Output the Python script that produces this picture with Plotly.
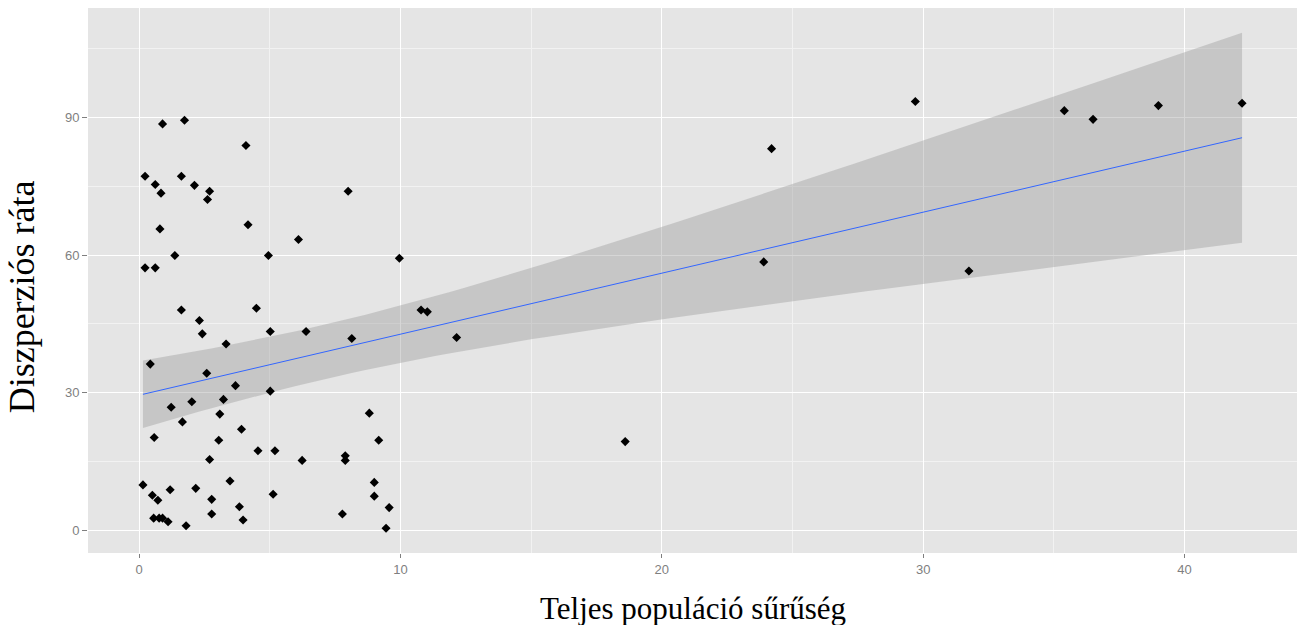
import numpy as np
import plotly.graph_objects as go

# Teljes populáció sűrűség (x) and Diszperziós ráta (y)
density = [0.90, 1.74, 4.09, 0.23, 1.62, 0.62, 2.12, 0.84, 2.70, 2.62,
           4.17, 0.80, 1.37, 0.23, 0.62, 1.62, 4.49, 2.31, 2.42, 3.33,
           0.43, 2.59, 3.69, 2.02, 3.23, 1.23, 3.09, 1.66, 3.92, 0.58,
           3.05, 4.55, 2.70, 0.15, 3.48, 0.51, 1.19, 2.17, 0.72, 2.78,
           3.84, 0.56, 0.77, 0.90, 1.11, 1.80, 2.78, 3.98, 8.00, 6.10,
           4.95, 9.96, 10.79, 11.03, 5.02, 6.39, 8.14, 5.02, 8.81, 9.17,
           5.20, 6.24, 7.89, 7.89, 9.00, 5.13, 9.00, 9.57, 7.78, 9.45,
           12.15, 18.6, 23.9, 24.2, 29.7, 31.75, 35.4, 36.5, 39.0, 42.2]
rate = [88.6, 89.4, 83.9, 77.2, 77.2, 75.4, 75.2, 73.5, 73.9, 72.1,
        66.6, 65.7, 59.9, 57.2, 57.2, 48.0, 48.4, 45.7, 42.8, 40.6,
        36.2, 34.2, 31.5, 28.0, 28.5, 26.8, 25.3, 23.6, 22.0, 20.2,
        19.6, 17.3, 15.4, 9.85, 10.7, 7.6, 8.8, 9.1, 6.5, 6.7,
        5.1, 2.6, 2.6, 2.6, 1.8, 0.95, 3.5, 2.2, 73.9, 63.4,
        59.9, 59.3, 48.0, 47.6, 43.3, 43.3, 41.8, 30.3, 25.5, 19.6,
        17.3, 15.2, 16.2, 15.2, 10.4, 7.8, 7.4, 4.9, 3.5, 0.4,
        42.0, 19.3, 58.5, 83.2, 93.5, 56.5, 91.5, 89.6, 92.6, 93.1]

x_ticks = [0, 10, 20, 30, 40]
y_ticks = [0, 30, 60, 90]
x_title = "Teljes populáció sűrűség"
y_title = "Diszperziós ráta"

# linear model with 95% confidence band (as geom_smooth(method="lm"))
x = np.array(density)
y = np.array(rate)
n = len(x)
xbar, ybar = x.mean(), y.mean()
sxx = ((x - xbar) ** 2).sum()
b = ((x - xbar) * (y - ybar)).sum() / sxx
a = ybar - b * xbar
s = np.sqrt(((y - (a + b * x)) ** 2).sum() / (n - 2))
t_q = 1.9908  # t(0.975, df=78)
xg = np.linspace(x.min(), x.max(), 80)
yg = a + b * xg
se = s * np.sqrt(1 / n + (xg - xbar) ** 2 / sxx)
upper = yg + t_q * se
lower = yg - t_q * se

def expand(lo, hi, f=0.05):
    d = (hi - lo) * f
    return [lo - d, hi + d]

x_range = expand(x.min(), x.max())
y_range = expand(min(y.min(), lower.min()), max(y.max(), upper.max()))

fig = go.Figure()
fig.add_trace(go.Scatter(
    x=np.concatenate([xg, xg[::-1]]), y=np.concatenate([upper, lower[::-1]]),
    fill="toself", fillcolor="rgba(153,153,153,0.4)", line=dict(width=0),
    mode="lines", hoverinfo="skip", showlegend=False))
fig.add_trace(go.Scatter(
    x=density, y=rate, mode="markers",
    marker=dict(symbol="diamond", size=7, color="black"), showlegend=False))
fig.add_trace(go.Scatter(
    x=xg, y=yg, mode="lines", line=dict(color="#3366FF", width=1),
    showlegend=False))

tickfont = dict(family="Liberation Sans Narrow, Arial Narrow, Liberation Sans, Arial",
                size=13, color="#7F7F7F")
fig.update_xaxes(
    range=x_range, tickvals=x_ticks, ticktext=[str(v) for v in x_ticks],
    showgrid=True, gridcolor="white", gridwidth=1.3, zeroline=False,
    ticks="outside", ticklen=4, tickcolor="#7F7F7F", tickwidth=1,
    tickfont=tickfont, showline=False,
    minor=dict(tick0=0, dtick=5, showgrid=True, gridcolor="#F2F2F2", gridwidth=0.8, ticks=""))
fig.update_yaxes(
    range=y_range, tickvals=y_ticks, ticktext=[str(v) for v in y_ticks],
    showgrid=True, gridcolor="white", gridwidth=1.3, zeroline=False,
    ticks="outside", ticklen=5, tickcolor="#7F7F7F", tickwidth=1,
    tickfont=tickfont, showline=False,
    minor=dict(tick0=0, dtick=15, showgrid=True, gridcolor="#F2F2F2", gridwidth=0.8, ticks=""))

fig.add_annotation(text=x_title, xref="paper", yref="paper", x=0.5, y=-0.066,
                   xanchor="center", yanchor="top", showarrow=False,
                   font=dict(family="Liberation Serif, Times New Roman", size=31, color="black"))
fig.add_annotation(text=y_title, xref="paper", yref="paper", x=-0.055, y=0.47,
                   xanchor="center", yanchor="middle", showarrow=False, textangle=-90,
                   font=dict(family="Liberation Serif, Times New Roman", size=36, color="black"))

fig.update_layout(
    width=1305, height=625,
    margin=dict(l=88, r=8, t=8, b=72, autoexpand=False),
    plot_bgcolor="#E5E5E5", paper_bgcolor="white",
)
fig.write_html("out.html", config={"displayModeBar": False},
               post_script="document.body.style.margin='0';document.body.style.overflow='hidden';")
